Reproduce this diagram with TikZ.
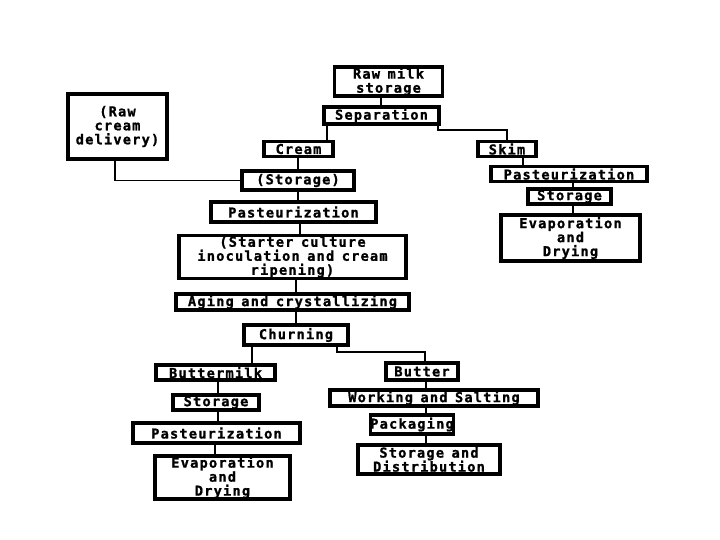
\documentclass[tikz,border=0pt]{standalone}
\usepackage{fontspec}
\newfontfamily\pxfont{DejaVu Sans Mono}[BoldFont={DejaVu Sans Mono Bold},BoldFeatures={FakeBold=1.2},LetterSpace=9,WordSpace=0.8]
\begin{document}
\begin{tikzpicture}[x=1pt,y=-1pt,
  bx/.style 2 args={draw, line width=3.1pt, inner sep=0pt, align=center,
    minimum width=#1 pt, minimum height=#2 pt,
    font=\pxfont\bfseries\fontsize{13.6}{14}\selectfont},
  ln/.style={line width=1.4pt}]
\useasboundingbox[fill=white] (0,0) rectangle (720,540);
% nodes
\node[bx={108}{29}] (raw) at (388.5,81.5) {Raw milk\\storage};
\node[bx={115}{17}] (sep) at (381.5,115.5) {Separation};
\node[bx={99}{65}] (rcd) at (117.5,126.5) {(Raw\\cream\\delivery)};
\node[bx={69}{15}] (cream) at (298.5,149) {Cream};
\node[bx={58}{15}] (skim) at (507,149) {Skim};
\node[bx={112}{19}] (stor) at (298,180.5) {(Storage)};
\node[bx={156}{15}] (spast) at (569,174) {Pasteurization};
\node[bx={83}{15}] (sstor) at (569.5,196.5) {Storage};
\node[bx={139}{46}] (sevap) at (570.5,238) {Evaporation\\and\\Drying};
\node[bx={165}{20}] (past) at (293.5,212) {Pasteurization};
\node[bx={227}{43}] (start) at (292.5,257) {(Starter culture\\inoculation and cream\\ripening)};
\node[bx={233}{16}] (aging) at (292.5,302) {Aging and crystallizing};
\node[bx={104}{20}] (churn) at (296,335) {Churning};
\node[bx={119}{15}] (bm) at (215.5,372.5) {Buttermilk};
\node[bx={86}{15}] (bstor) at (216,402.5) {Storage};
\node[bx={167}{20}] (bpast) at (216.5,433) {Pasteurization};
\node[bx={135}{43}] (bevap) at (222.5,477.5) {Evaporation\\and\\Drying};
\node[bx={72}{17}] (butter) at (422,371.5) {Butter};
\node[bx={208}{16}] (work) at (434,398) {Working and Salting};
\node[bx={78}{19}] (pack) at (412,424.5) {Packaging};
\node[bx={142}{29}] (sd) at (429,459.5) {Storage and\\Distribution};
% connectors
\draw[ln] (381,0 |- raw.south) -- (381,0 |- sep.north);
\draw[ln] (327,0 |- sep.south) -- (327,0 |- cream.north);
\draw[ln] (438,0 |- sep.south) -- (438,130) -| (skim.north);
\draw[ln] (298,0 |- cream.south) -- (298,0 |- stor.north);
\draw[ln] (115,0 |- rcd.south) |- (stor.west);
\draw[ln] (523,0 |- skim.south) -- (523,0 |- spast.north);
\draw[ln] (573,0 |- spast.south) -- (573,0 |- sstor.north);
\draw[ln] (573,0 |- sstor.south) -- (573,0 |- sevap.north);
\draw[ln] (298,0 |- stor.south) -- (298,0 |- past.north);
\draw[ln] (300,0 |- past.south) -- (300,0 |- start.north);
\draw[ln] (296,0 |- start.south) -- (296,0 |- aging.north);
\draw[ln] (296,0 |- aging.south) -- (296,0 |- churn.north);
\draw[ln] (252,0 |- churn.south) -- (252,0 |- bm.north);
\draw[ln] (337,0 |- churn.south) -- (337,352) -| (425,0 |- butter.north);
\draw[ln] (218,0 |- bm.south) -- (218,0 |- bstor.north);
\draw[ln] (218,0 |- bstor.south) -- (218,0 |- bpast.north);
\draw[ln] (215,0 |- bpast.south) -- (215,0 |- bevap.north);
\draw[ln] (426,0 |- butter.south) -- (426,0 |- work.north);
\draw[ln] (426,0 |- work.south) -- (426,0 |- pack.north);
\draw[ln] (426,0 |- pack.south) -- (426,0 |- sd.north);
\end{tikzpicture}
\end{document}
